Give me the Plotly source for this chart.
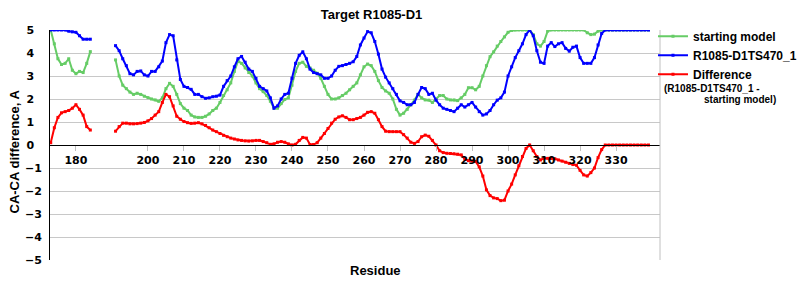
import plotly.graph_objects as go

# ---------------- data ----------------
residues = list(range(173, 340))

gap = [None] * 6  # residues 185-190 missing

starting_seg1 = [5.0, 4.4, 3.75, 3.5, 3.55, 3.75, 3.25, 3.1, 3.2, 3.15, 3.55, 4.06]
starting_seg2 = [
    3.7, 3.0, 2.6, 2.45, 2.3, 2.2, 2.25, 2.2, 2.12, 2.06,
    2.0, 1.96, 1.9, 2.05, 2.45, 2.68, 2.55, 2.2, 1.8, 1.6,
    1.5, 1.3, 1.22, 1.2, 1.2, 1.25, 1.35, 1.5, 1.6, 1.85,
    2.15, 2.4, 2.7, 3.2, 3.65, 3.55, 3.35, 3.15, 3.0, 2.7,
    2.45, 2.32, 2.15, 1.9, 1.6, 1.6, 1.8, 1.98, 2.05, 2.6,
    3.2, 3.55, 3.6, 3.42, 3.35, 3.25, 3.12, 2.9, 2.55, 2.2,
    2.0, 2.0, 2.05, 2.15, 2.25, 2.4, 2.55, 2.7, 3.05, 3.4,
    3.52, 3.45, 3.2, 2.8, 2.5, 2.35, 2.25, 2.0, 1.55, 1.3,
    1.38, 1.55, 1.75, 1.95, 2.2, 2.05, 1.96, 1.95, 1.85, 2.0,
    2.15, 2.15, 2.0, 1.96, 1.96, 1.93, 2.05, 2.2, 2.49, 2.49,
    2.4, 2.55, 3.0, 3.45, 3.84, 4.05, 4.3, 4.5, 4.7, 4.9,
    4.98, 5.0, 5.0, 5.0, 5.0, 5.0, 4.8, 4.4, 4.3, 4.5,
    4.95, 5.0, 5.0, 5.0, 5.0, 5.0, 5.0, 5.0, 5.0, 5.0,
    5.0, 4.88, 4.8, 4.82, 4.95, 5.0, 5.0, 5.0, 5.0, 5.0,
    5.0, 5.0, 5.0, 5.0, 5.0, 5.0, 5.0, 5.0, 5.0,
]

model_seg1 = [5.0, 5.0, 5.0, 5.0, 5.0, 4.95, 4.92, 4.9, 4.75, 4.6, 4.6, 4.6]
model_seg2 = [
    4.32, 4.1, 3.75, 3.45, 3.1, 3.05, 3.2, 3.22, 3.05, 3.0,
    3.2, 3.2, 3.4, 3.65, 4.45, 4.8, 4.75, 3.7, 2.85, 2.55,
    2.5, 2.42, 2.2, 2.2, 2.1, 2.03, 2.05, 2.1, 2.12, 2.17,
    2.55, 2.8, 3.0, 3.4, 3.75, 3.85, 3.6, 3.3, 3.2, 2.9,
    2.55, 2.45, 2.35, 2.05, 1.6, 1.7, 2.0, 2.2, 2.25, 2.9,
    3.55, 3.9, 4.05, 3.75, 3.3, 3.15, 3.1, 3.05, 2.9, 2.9,
    3.0, 3.25, 3.42, 3.45, 3.5, 3.55, 3.62, 3.85, 4.35, 4.65,
    4.93, 4.88, 4.5, 3.95, 3.3, 2.95, 2.7, 2.45, 2.2, 1.92,
    1.85, 1.75, 1.75, 1.85, 2.2, 2.5, 2.45, 2.2, 2.25, 1.95,
    1.75, 1.6, 1.55, 1.5, 1.45, 1.6, 1.75, 1.65, 1.75, 1.85,
    1.65, 1.45, 1.3, 1.35, 1.5, 1.75, 1.95, 2.05, 2.3, 3.0,
    3.4, 3.8, 4.1, 4.4, 4.8, 5.0, 4.75, 4.1, 3.6, 3.55,
    4.3, 4.45, 4.28, 4.4, 4.45, 4.2, 4.08, 4.25, 4.3, 3.8,
    3.55, 3.55, 3.55, 3.8, 4.35, 4.85, 5.0, 5.0, 5.0, 5.0,
    5.0, 5.0, 5.0, 5.0, 5.0, 5.0, 5.0, 5.0, 5.0,
]

diff_seg1 = [0.1, 0.75, 1.2, 1.4, 1.45, 1.5, 1.6, 1.75, 1.55, 1.3, 0.8, 0.65]
diff_seg2 = [
    0.6, 0.8, 0.95, 0.95, 0.92, 0.92, 0.93, 0.95, 0.98, 1.05,
    1.15, 1.3, 1.45, 1.85, 2.2, 2.1, 1.7, 1.25, 1.12, 1.02,
    0.97, 0.94, 0.95, 0.97, 0.92, 0.85, 0.75, 0.65, 0.58, 0.5,
    0.42, 0.36, 0.3, 0.26, 0.22, 0.2, 0.18, 0.17, 0.18, 0.2,
    0.2, 0.15, 0.1, 0.03, 0.05, 0.12, 0.15, 0.12, 0.05, 0.0,
    0.03, 0.2, 0.33, 0.3, 0.02, 0.02, 0.1, 0.3, 0.5, 0.72,
    0.95, 1.12, 1.22, 1.27, 1.2, 1.1, 1.1, 1.15, 1.2, 1.3,
    1.42, 1.45, 1.38, 1.1, 0.8, 0.6, 0.58, 0.58, 0.58, 0.58,
    0.45, 0.3, 0.12, 0.07, 0.15, 0.36, 0.43, 0.38, 0.2, 0.0,
    -0.25, -0.33, -0.36, -0.37, -0.38, -0.4, -0.43, -0.62, -0.68, -0.7,
    -0.72, -0.95, -1.35, -1.95, -2.2, -2.3, -2.33, -2.42, -2.4, -2.0,
    -1.7, -1.3, -0.9, -0.5, -0.15, 0.0, -0.25, -0.5, -0.65, -0.58,
    -0.58, -0.58, -0.6, -0.65, -0.7, -0.75, -0.8, -0.85, -0.88, -1.1,
    -1.3, -1.35, -1.2, -1.0, -0.55, -0.2, 0.0, 0.0, 0.0, 0.0,
    0.0, 0.0, 0.0, 0.0, 0.0, 0.0, 0.0, 0.0, 0.0,
]

starting_model = starting_seg1 + gap + starting_seg2
model_r1085 = model_seg1 + gap + model_seg2
difference = diff_seg1 + gap + diff_seg2

x_tickvals = [180, 200, 210, 220, 230, 240, 250, 260, 270, 280, 290, 300, 310, 320, 330]
y_tickvals = [-5, -4, -3, -2, -1, 0, 1, 2, 3, 4, 5]
y_ticktext = ["\u22125", "\u22124", "\u22123", "\u22122", "\u22121",
              "0\u2007", "1\u2007", "2\u2007", "3\u2007", "4\u2007", "5\u2007"]

# ---------------- figure ----------------
TXT = "Liberation Sans, Arial, sans-serif"
TICK = "DejaVu Sans, Verdana, sans-serif"

series = [
    ("starting model", starting_model, "#66CC66"),
    ("R1085-D1TS470_1", model_r1085, "#0000FF"),
    ("Difference", difference, "#FF0000"),
]

fig = go.Figure()
for name, vals, col in series:
    fig.add_trace(go.Scatter(
        x=residues, y=vals, name=name, mode="lines+markers",
        line=dict(color=col, width=2),
        marker=dict(color=col, size=3, symbol="square"),
        connectgaps=False,
    ))

fig.update_layout(
    width=800, height=300, autosize=False,
    margin=dict(l=50, r=140, t=30, b=40, autoexpand=False),
    paper_bgcolor="white", plot_bgcolor="white",
    title=dict(text="Target R1085-D1", x=0.4644, xref="container", xanchor="center",
               y=0.951, yref="container", yanchor="middle",
               font=dict(family=TXT, size=13, color="black", weight="bold")),
    showlegend=True,
    legend=dict(x=0.9885, xanchor="left", y=1.036, yanchor="top",
                font=dict(family=TXT, size=12, color="black", weight="bold"),
                bgcolor="rgba(0,0,0,0)", borderwidth=0, tracegroupgap=0),
    xaxis=dict(range=[172.8, 342.2], tickvals=x_tickvals, anchor="free", position=0.5,
               showline=True, linecolor="black", linewidth=1,
               ticks="outside", ticklen=5, tickcolor="#c0c0c0", tickwidth=1,
               showgrid=False, zeroline=False,
               tickfont=dict(family=TICK, size=11, color="black", weight="bold")),
    yaxis=dict(range=[-5, 5], tickvals=y_tickvals, ticktext=y_ticktext,
               showline=True, linecolor="black", linewidth=1,
               ticks="outside", ticklen=5, tickcolor="rgba(0,0,0,0)",
               showgrid=True, gridcolor="#c8c8c8", gridwidth=1, zeroline=False,
               tickfont=dict(family=TICK, size=11, color="black", weight="bold")),
    shapes=[dict(type="line", xref="paper", yref="paper", x0=1, x1=1, y0=0, y1=1,
                 line=dict(color="#c0c0c0", width=1))],
    annotations=[
        dict(text="CA-CA difference, A", textangle=-90, xref="paper", yref="paper",
             x=-0.0574, y=0.4717, xanchor="center", yanchor="middle", showarrow=False,
             font=dict(family=TXT, size=13, color="black", weight="bold")),
        dict(text="Residue", xref="paper", yref="paper", x=0.534, y=-0.0435,
             xanchor="center", yanchor="middle", showarrow=False,
             font=dict(family=TXT, size=13, color="black", weight="bold")),
        dict(text="(R1085-D1TS470_1 -", xref="paper", yref="paper", x=1.0033, y=0.7435,
             xanchor="left", yanchor="middle", showarrow=False,
             font=dict(family=TXT, size=10, color="black", weight="bold")),
        dict(text="starting model)", xref="paper", yref="paper", x=1.0689, y=0.697,
             xanchor="left", yanchor="middle", showarrow=False,
             font=dict(family=TXT, size=10, color="black", weight="bold")),
    ],
)

fig.write_html("out.html")
